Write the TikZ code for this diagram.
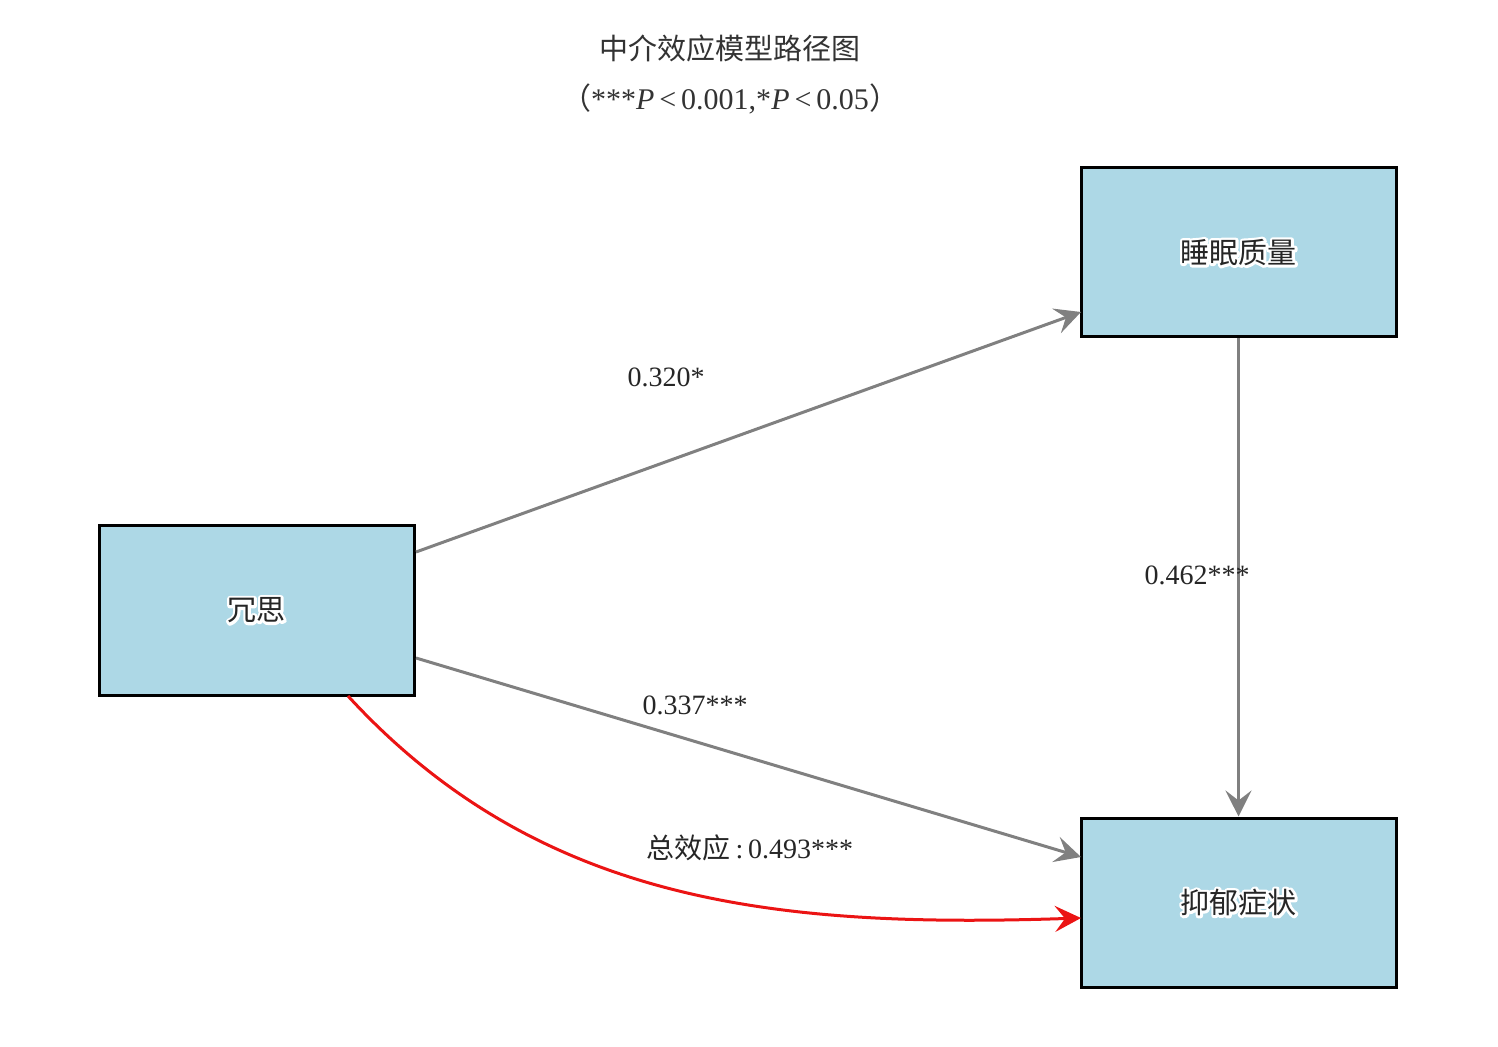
\documentclass[tikz,border=0pt]{standalone}
\usepackage{fontspec}
\setmainfont{Liberation Serif}
\newfontfamily\cjk{Noto Sans CJK SC}
\usetikzlibrary{arrows.meta}
\definecolor{boxblue}{RGB}{173,216,230}
\definecolor{pathgray}{RGB}{128,128,128}
\definecolor{pathred}{RGB}{235,20,20}
\newcommand\halotext[1]{\rlap{\special{pdf:literal direct 1 Tr 2.6 w 1 1 1 RG 1 j}#1\special{pdf:literal direct 0 Tr 0.4 w 0 G}}#1}
\tikzset{
  varbox/.style={draw=black, line width=1.5pt, fill=boxblue, minimum width=157.5pt, minimum height=84.5pt, inner sep=0pt, font=\cjk\fontsize{14.5}{16}\selectfont, text=black!85},
  graypath/.style={draw=pathgray, line width=1.5pt, -{Stealth[length=13pt, width=13pt, inset=5pt]}},
  redpath/.style={draw=pathred, line width=1.5pt, -{Stealth[length=13pt, width=13pt, inset=5pt]}},
  lbl/.style={font=\fontsize{14}{16}\selectfont, text=black!85, inner sep=1pt},
}
\begin{document}
\begin{tikzpicture}[x=0.5pt, y=-0.5pt]
\useasboundingbox (0,0) rectangle (1498,1047);
\node[font=\cjk\fontsize{14.5}{16}\selectfont, text=black!80] (title) at (730,48) {中介效应模型路径图};
\node[font=\fontsize{15}{17}\selectfont, text=black!80] (sub) at (730,99) {{\cjk （}***\textit{P}\,<\,0.001,*\textit{P}\,<\,0.05{\cjk ）}};
\node[varbox] (sleep) at (1238.5,252.5) {\halotext{睡眠质量}};
\node[varbox] (rum) at (256.5,610.5) {\halotext{冗思}};
\node[varbox] (dep) at (1238.5,902.5) {\halotext{抑郁症状}};
\coordinate (a1) at (416,552);
\coordinate (a2) at (1081,312);
\coordinate (c1) at (416,658);
\coordinate (c2) at (1081,857);
\coordinate (r1) at (348,696);
\coordinate (r2) at (1081,918);
\draw[graypath] (a1) -- (a2);
\draw[graypath] (sleep.south) -- (dep.north);
\draw[graypath] (c1) -- (c2);
\draw[redpath] (r1) .. controls (540,905) and (780,928) .. (r2);
\node[lbl] (la) at (666,377) {0.320*};
\node[lbl] (lb) at (1197,575) {0.462***};
\node[lbl] (lc) at (695,705) {0.337***};
\node[lbl] (ld) at (750,848) {{\cjk 总效应}\,:\,0.493***};
\end{tikzpicture}
\end{document}
